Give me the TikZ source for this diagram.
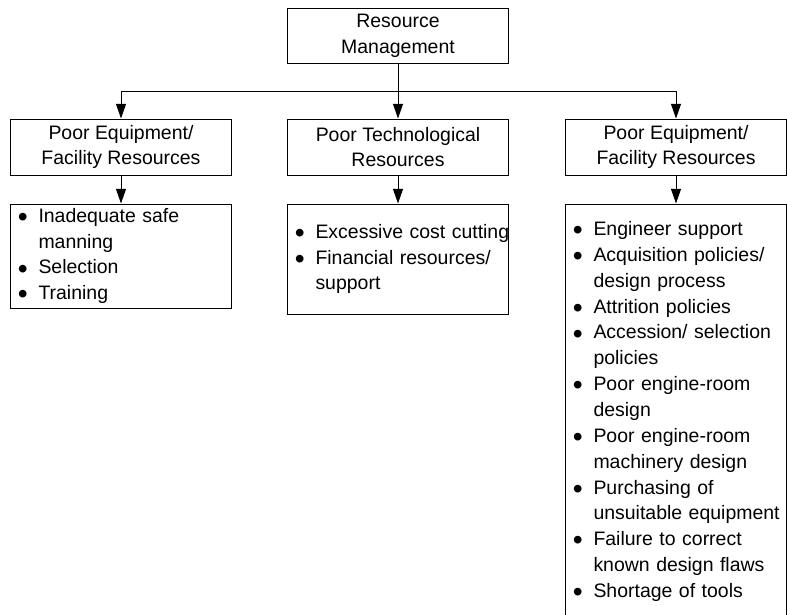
\documentclass[tikz,border=0pt]{standalone}
\usepackage{fontspec}
\setmainfont{Liberation Sans}
\usetikzlibrary{arrows.meta, positioning, calc}
\newcommand{\dotb}{\raisebox{-0.4ex}{\scalebox{1.45}{\textbullet}}}
\newcommand{\bul}[1]{\mbox{\makebox[16pt][l]{\hspace*{0.5pt}\dotb}#1}}
\newcommand{\cnt}[1]{\mbox{\hspace*{16pt}#1}}
\tikzset{
  box/.style={draw=black, line width=0.75pt, align=center, inner sep=0pt,
              minimum width=165.75pt, font=\fontsize{14.6}{19.4}\selectfont},
  hdr/.style={box, minimum height=42pt},
  lst/.style={box, align=left, text width=155.75pt, inner xsep=5pt},
  arr/.style={-{Triangle[length=11pt, width=7.5pt]}, line width=0.75pt, draw=black},
}

\begin{document}
\begin{tikzpicture}[x=0.75pt, y=-0.75pt]
\useasboundingbox (0,0) rectangle (787,614);

% ---------- top ----------
\node[box, minimum height=41.25pt] (res) at (398,35.5) {Resource\\Management};

% ---------- second row ----------
\node[hdr, below=41.25pt of res] (tech) {Poor Technological\\Resources};
\node[hdr, left=41.25pt of tech] (equipL) {Poor Equipment/\\Facility Resources};
\node[hdr, right=42pt of tech] (equipR) {Poor Equipment/\\Facility Resources};

% ---------- lists ----------
\node[lst, minimum height=78pt, below=21pt of equipL] (listL)
  {\bul{Inadequate safe}\\ \cnt{manning}\\ \bul{Selection}\\ \bul{Training}};

\node[lst, minimum height=82.5pt, below=21pt of tech] (listM)
  {\bul{Excessive cost cutting}\\ \bul{Financial resources/}\\ \cnt{support}};

\node[lst, minimum height=311.25pt, below=21pt of equipR] (listR)
  {\bul{Engineer support}\\
   \bul{Acquisition policies/}\\ \cnt{design process}\\
   \bul{Attrition policies}\\
   \bul{Accession/ selection}\\ \cnt{policies}\\
   \bul{Poor engine-room}\\ \cnt{design}\\
   \bul{Poor engine-room}\\ \cnt{machinery design}\\
   \bul{Purchasing of}\\ \cnt{unsuitable equipment}\\
   \bul{Failure to correct}\\ \cnt{known design flaws}\\
   \bul{Shortage of tools}};

% ---------- connectors ----------
\coordinate (bus) at ($(res.south)!0.5!(tech.north)$);
\draw[arr] (res) -- (tech);
\draw[arr] (bus) -| (equipL);
\draw[arr] (bus) -| (equipR);
\draw[arr] (equipL) -- (listL);
\draw[arr] (tech) -- (listM);
\draw[arr] (equipR) -- (listR);

\end{tikzpicture}
\end{document}
